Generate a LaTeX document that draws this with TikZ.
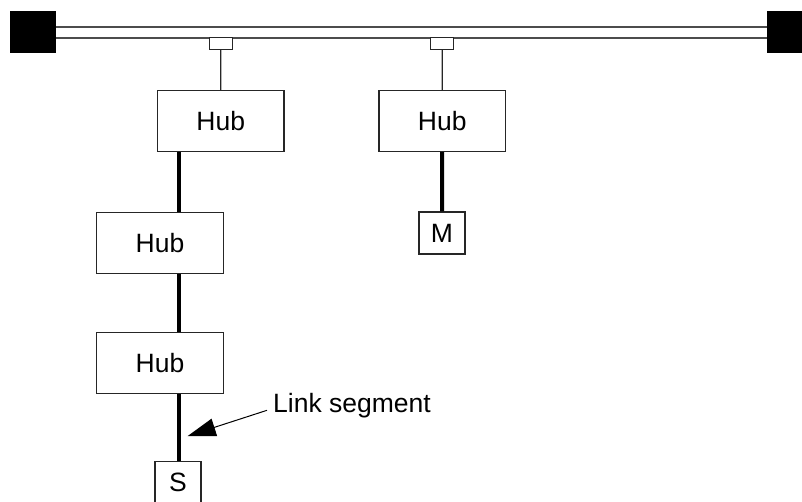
\documentclass[tikz,border=0pt]{standalone}
\usepackage{fontspec}
\setmainfont{Liberation Sans}
\usetikzlibrary{arrows.meta}
\begin{document}
\begin{tikzpicture}[x=1pt,y=-1pt,
  box/.style={draw=black!85,line width=1.2pt,fill=white,inner sep=0pt,font=\fontsize{26.5}{30}\selectfont},
  hubbox/.style={box,minimum width=126.5pt,minimum height=60.8pt},
  devbox/.style={box,minimum width=46pt,minimum height=42pt},
  tapbox/.style={draw=black!85,line width=1.2pt,fill=white,minimum width=23pt,minimum height=12pt,inner sep=0pt},
  term/.style={fill=black,draw=none,inner sep=0pt,minimum height=42pt},
  thinline/.style={draw=black!85,line width=1.2pt},
  thickline/.style={draw=black,line width=4pt},
  busline/.style={draw=black!70,line width=1.5pt}
]
\useasboundingbox (0,0) rectangle (802,501);
\begin{scope}
\clip (0,0) rectangle (802,501);
% bus
\node[term,minimum width=46pt] (termL) at (33,32) {};
\node[term,minimum width=46pt,anchor=west] (termR) at (767,32) {};
\coordinate (busTL) at (56,27);
\coordinate (busBL) at (56,38);
\draw[busline] (busTL) -- (busTL -| termR.west);
\draw[busline] (busBL) -- (busBL -| termR.west);
% taps
\node[tapbox] (tap1) at (220.8,43.5) {};
\node[tapbox] (tap2) at (442.3,43.3) {};
% hubs
\node[hubbox] (hub1) at (220.7,121.2) {Hub};
\node[hubbox] (hub2) at (442.2,121.0) {Hub};
\node[hubbox] (hub3) at (160,243) {Hub};
\node[hubbox] (hub4) at (160,363) {Hub};
% devices
\node[devbox] (m) at (442,233) {M};
\node[devbox] (s) at (178,482.7) {S};
\coordinate (spine) at (179.2,0);
% connectors
\draw[thinline] (tap1.south) -- (hub1.north);
\draw[thinline] (tap2.south) -- (hub2.north);
\draw[thickline] (hub1.south -| spine) -- (hub3.north -| spine);
\draw[thickline] (hub3.south -| spine) -- (hub4.north -| spine);
\draw[thickline] (hub4.south -| spine) -- (s.north -| spine);
\draw[thickline] (hub2.south) -- (m.north);
% label
\node[anchor=base west,inner sep=0pt,font=\fontsize{26.5}{30}\selectfont] (link) at (273,412) {Link segment};
\coordinate (linkstart) at (267,410.3);
\coordinate (linktip) at (187.7,436);
\draw[line width=1pt,-{Triangle[length=28pt,width=18pt]}] (linkstart) -- (linktip);
\end{scope}
\end{tikzpicture}
\end{document}
